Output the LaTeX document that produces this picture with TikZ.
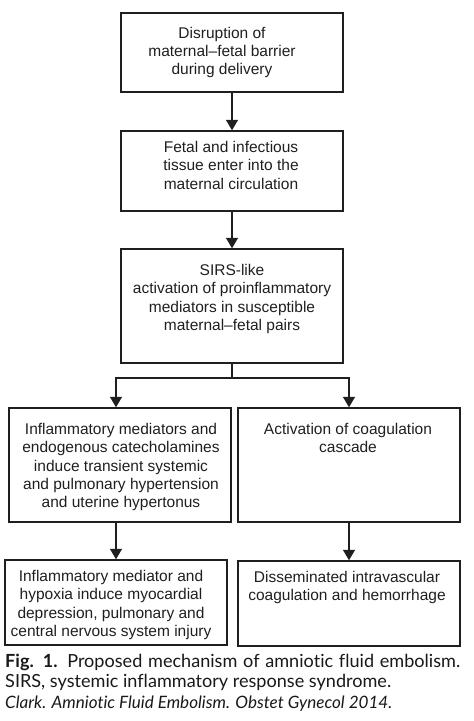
\documentclass[tikz,border=0pt]{standalone}
\usepackage{fontspec}
\setmainfont{Liberation Sans}
\newfontfamily\capfont[Ligatures=NoCommon]{Lato}
\usetikzlibrary{arrows.meta}
\newlength\capw
\newlength\citw
\AtBeginDocument{%
\settowidth\capw{\capfont\fontsize{10bp}{12bp}\selectfont SIRS, systemic inflammatory response syndrome.}%
\settowidth\citw{\capfont\itshape\fontsize{10bp}{12bp}\selectfont Clark. Amniotic Fluid Embolism. Obstet Gynecol 2014.}%
\pgfmathsetmacro\capsize{10*387.4/\capw}%
\pgfmathsetmacro\citsize{10*388.5/\citw}%
\xdef\capsize{\capsize}\xdef\citsize{\citsize}}
\begin{document}
\begin{tikzpicture}[x=1bp,y=-1bp,
  boxnode/.style={draw=black!88, line width=1.4bp, minimum width=222bp, inner sep=0pt},
  txt/.style={inner sep=0pt, anchor=north, align=center, text=black!88,
    font=\fontsize{15.5bp}{18.4bp}\selectfont},
  arr/.style={draw=black!88, line width=1.3bp, -{Triangle[width=12bp,length=10.5bp]}},
  ln/.style={draw=black!88, line width=1.3bp}]
\useasboundingbox (0,0) rectangle (474,721);
% boxes
\node[boxnode, minimum height=79bp] (b1) at (232,52.5) {};
\node[boxnode, minimum height=80bp] (b2) at (232,171) {};
\node[boxnode, minimum height=114bp] (b3) at (232,306) {};
\node[boxnode, minimum height=114bp] (b4) at (120,465) {};
\node[boxnode, minimum height=114bp] (b5) at (349,465) {};
\node[boxnode, minimum height=85bp] (b6) at (116,602.5) {};
\node[boxnode, minimum height=85bp] (b7) at (349,603.5) {};
% texts
\node[txt] (t1) at (222,26.6) {Disruption of\\maternal–fetal barrier\\during delivery};
\node[txt] (t2) at (231,140.8) {Fetal and infectious\\tissue enter into the\\maternal circulation};
\node[txt] (t3) at (232,263.8) {SIRS-like\\activation of proinflammatory\\mediators in susceptible\\maternal–fetal pairs};
\node[txt] (t4) at (121,422.8) {Inflammatory mediators and\\endogenous catecholamines\\induce transient systemic\\and pulmonary hypertension\\and uterine hypertonus};
\node[txt] (t5) at (348,422.8) {Activation of coagulation\\cascade};
\node[txt] (t6) at (111,569.8) {Inflammatory mediator and\\hypoxia induce myocardial\\depression, pulmonary and\\central nervous system injury};
\node[txt] (t7) at (347,570.8) {Disseminated intravascular\\coagulation and hemorrhage};
% connectors
\draw[arr] (b1.south) -- (b2.north);
\draw[arr] (b2.south) -- (b3.north);
\coordinate (j) at (232,378);
\draw[ln] (b3.south) -- (j);
\draw[arr] (j) -| (b6.north |- b4.north);
\draw[arr] (j) -| (b5.north);
\draw[arr] (b6.north |- b4.south) -- (b6.north);
\draw[arr] (b5.south) -- (b7.north);
% caption
\node[anchor=base west, inner sep=0pt, text=black!90, font=\capfont\fontsize{\capsize bp}{\capsize bp}\selectfont] (c1) at (5,667)
  {\makebox[455bp][s]{\textbf{Fig. 1.} Proposed mechanism of amniotic fluid embolism.}};
\node[anchor=base west, inner sep=0pt, text=black!90, font=\capfont\fontsize{\capsize bp}{\capsize bp}\selectfont] (c2) at (5,687)
  {SIRS, systemic inflammatory response syndrome.};
\node[anchor=base west, inner sep=0pt, text=black!90, font=\capfont\itshape\fontsize{\citsize bp}{\citsize bp}\selectfont] (c3) at (5,708)
  {Clark. Amniotic Fluid Embolism. Obstet Gynecol 2014.};
\end{tikzpicture}
\end{document}
